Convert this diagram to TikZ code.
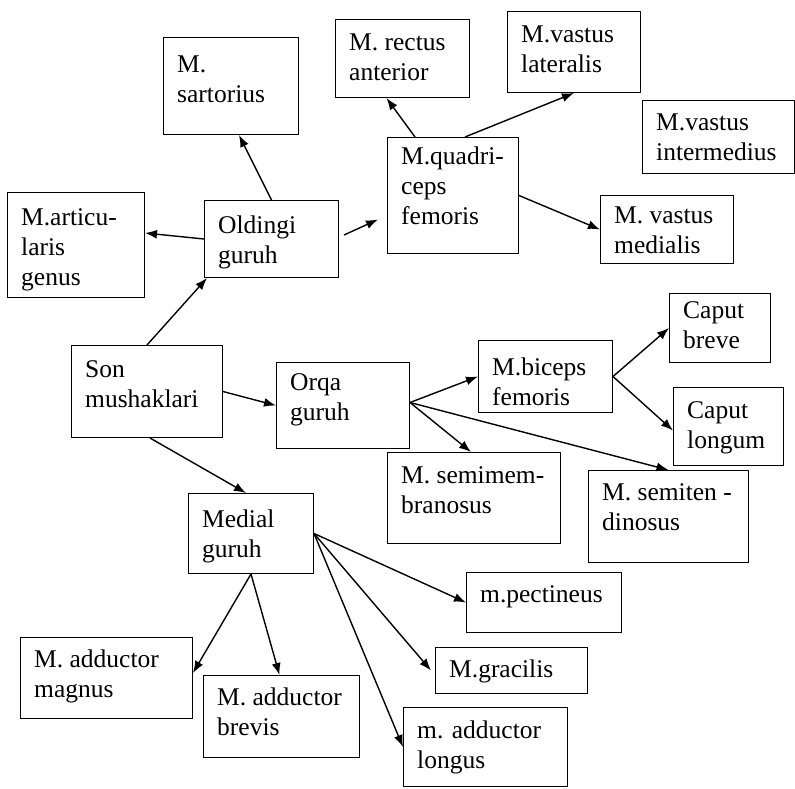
\documentclass[tikz,border=0pt]{standalone}
\usepackage{fontspec}
\setmainfont{Liberation Serif}
\usetikzlibrary{arrows.meta}
\tikzset{
  boxst/.style={draw=black, line width=1pt, rectangle, inner sep=0pt},
  txt/.style={inner sep=0pt, font=\fontsize{25.5}{30}\selectfont},
  arr/.style={line width=1.4pt, -{Latex[length=12pt,width=9pt]}}
}
\newcommand{\bx}[7]{%
  \node[boxst, minimum width={#4-#2}, minimum height={#5-#3}, anchor=north west] (#1) at (#2,-#3) {};
  \node[txt, anchor=base west] (#1-t) at (#2+14,-#3-#6) {\begin{tabular}[t]{@{}l@{}}#7\end{tabular}};}
\begin{document}
\begin{tikzpicture}[x=1pt,y=1pt]
\useasboundingbox (0,0) rectangle (795,-788);
\bx{sar}{163}{37}{298}{134}{35}{M.\\sartorius}
\bx{rec}{335}{19}{469}{97}{31}{M. rectus\\anterior}
\bx{lat}{507}{11}{640}{92}{31}{M.vastus\\lateralis}
\bx{int}{642}{100}{794}{173}{30}{M.vastus\\intermedius}
\bx{quad}{387}{137}{518}{253}{27}{M.quadri-\\ceps\\femoris}
\bx{vmed}{600}{195}{733}{263}{28}{M. vastus\\medialis}
\bx{art}{7}{192}{144}{297}{33}{M.articu-\\laris\\genus}
\bx{old}{204}{200}{338}{277}{33}{Oldingi\\guruh}
\bx{son}{71}{345}{222}{437}{32}{Son\\mushaklari}
\bx{orq}{276}{362}{409}{448}{28}{Orqa\\guruh}
\bx{bic}{478}{340}{612}{412}{35}{M.biceps\\femoris}
\bx{brv}{669}{293}{770}{362}{25}{Caput\\breve}
\bx{lng}{673}{387}{783}{465}{31}{Caput\\longum}
\bx{smm}{387}{452}{560}{543}{31}{M. semimem-\\branosus}
\bx{smt}{588}{470}{748}{562}{30}{M. semiten -\\dinosus}
\bx{medg}{188}{493}{313}{573}{34}{Medial\\guruh}
\bx{pec}{466}{572}{621}{632}{30}{m.pectineus}
\bx{gra}{435}{647}{587}{693}{30}{M.gracilis}
\bx{lon}{403}{707}{567}{786}{31}{m. adductor\\longus}
\bx{mag}{20}{637}{192}{718}{30}{M. adductor\\magnus}
\bx{abr}{203}{675}{359}{757}{30}{M. adductor\\brevis}
% connectors
\draw[arr] (son.north) -- ([xshift=3pt]old.south west);
\draw[arr] (old.west) -- ([yshift=12pt]art.east);
\draw[arr] (old.north) -- ([xshift=8pt]sar.south);
\draw[arr] ([xshift=5pt,yshift=4pt]old.east) -- ([xshift=-9pt,yshift=-24pt]quad.west);
\draw[arr] ([xshift=-38pt]quad.north) -- ([xshift=-16pt]rec.south);
\draw[arr] ([xshift=12pt]quad.north) -- (lat.south);
\draw[arr] (quad.east) -- (vmed.west);
\draw[arr] (son.east) -- (orq.west);
\draw[arr] ([xshift=3pt]son.south) -- ([xshift=-5pt]medg.north);
\draw[arr] ([yshift=3pt]orq.east) -- (bic.west);
\draw[arr] ([yshift=3pt]orq.east) -- ([xshift=-3pt]smm.north);
\draw[arr] ([yshift=3pt]orq.east) -- (smt.north);
\draw[arr] (bic.east) -- (brv.west);
\draw[arr] (bic.east) -- ([yshift=-4pt]lng.west);
\draw[arr] (medg.south) -- ([yshift=5pt]mag.east);
\draw[arr] (medg.south) -- ([xshift=-2pt]abr.north);
\draw[arr] (medg.east) -- (pec.west);
\draw[arr] (medg.east) -- ([xshift=-4pt]gra.west);
\draw[arr] (medg.east) -- ([yshift=-40pt]lon.north west);
\end{tikzpicture}
\end{document}
